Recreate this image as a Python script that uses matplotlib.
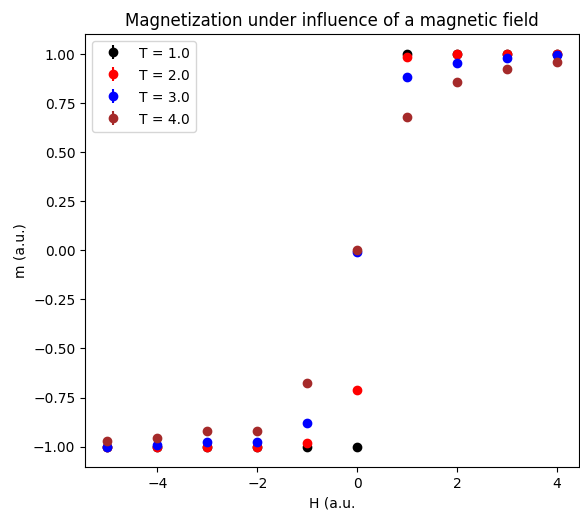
import numpy as np
import matplotlib
matplotlib.use("Agg")
import matplotlib.pyplot as plt

# Champ magnétique appliqué
H = [-5, -4, -3, -2, -1, 0, 1, 2, 3, 4]

# Aimantation moyenne pour chaque température
m_T1 = [-1.00, -1.00, -1.00, -1.00, -1.00, -1.00, 1.00, 1.00, 1.00, 1.00]
m_T2 = [-1.00, -1.00, -1.00, -1.00, -0.98, -0.71, 0.985, 1.00, 1.00, 1.00]
m_T3 = [-1.00, -0.99, -0.975, -0.975, -0.88, -0.01, 0.885, 0.955, 0.98, 0.995]
m_T4 = [-0.97, -0.955, -0.92, -0.92, -0.675, 0.00, 0.68, 0.86, 0.925, 0.96]

# Barres d'erreur (très petites)
err_T1 = [0.002, 0.002, 0.002, 0.002, 0.002, 0.002, 0.002, 0.002, 0.002, 0.002]
err_T2 = [0.003, 0.003, 0.003, 0.003, 0.005, 0.010, 0.004, 0.003, 0.003, 0.003]
err_T3 = [0.004, 0.004, 0.005, 0.005, 0.008, 0.012, 0.008, 0.005, 0.004, 0.004]
err_T4 = [0.006, 0.006, 0.008, 0.008, 0.012, 0.015, 0.012, 0.008, 0.007, 0.006]

temperatures = [1.0, 2.0, 3.0, 4.0]
couleurs = ["black", "red", "blue", "brown"]
series = [m_T1, m_T2, m_T3, m_T4]
erreurs = [err_T1, err_T2, err_T3, err_T4]

fig = plt.figure(figsize=(5.8, 5.15), dpi=100)
ax = fig.add_axes([0.1466, 0.0932, 0.852, 0.8408])

for T, c, m, e in zip(temperatures, couleurs, series, erreurs):
    ax.errorbar(H, m, yerr=e, fmt="o", color=c, label=f"T = {T}")

ax.set_title("Magnetization under influence of a magnetic field")
ax.set_xlabel("H (a.u.")
ax.set_ylabel("m (a.u.)")
ax.legend(loc="upper left", handleheight=1.2, handlelength=2.2)

fig.savefig("out.png", dpi=100)
